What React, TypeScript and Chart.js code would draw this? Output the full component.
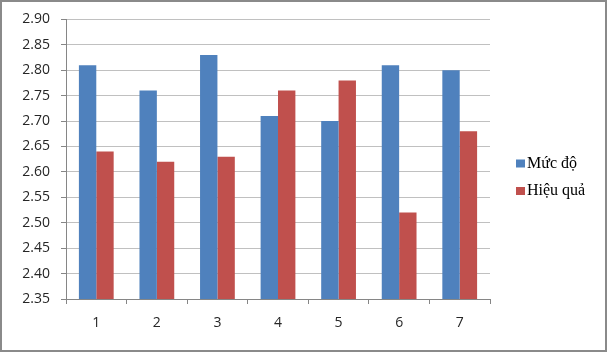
import React, { useEffect, useRef } from "react";
import { Chart, registerables } from "chart.js";

Chart.register(...registerables);

const categories = ["1", "2", "3", "4", "5", "6", "7"];
const seriesNames = ["Mức độ", "Hiệu quả"];
const mucDo = [2.81, 2.76, 2.83, 2.71, 2.7, 2.81, 2.8];
const hieuQua = [2.64, 2.62, 2.63, 2.76, 2.78, 2.52, 2.68];
const yTicks = [2.35, 2.4, 2.45, 2.5, 2.55, 2.6, 2.65, 2.7, 2.75, 2.8, 2.85, 2.9];

const BLUE = "#4F81BD";
const RED = "#C0504D";
const AXIS = "#868686";
const GRID = "#c0c0c0";
const TEXT = "#262626";
const tickFont = { family: "'Open Sans', sans-serif", size: 14 };

const framePlugin = {
  id: "frame",
  beforeDraw(chart: any) {
    const ctx = chart.ctx;
    ctx.save();
    ctx.fillStyle = "#ffffff";
    ctx.fillRect(0, 0, chart.width, chart.height);
    ctx.restore();
  },
  afterDraw(chart: any) {
    const ctx = chart.ctx;
    ctx.save();
    ctx.strokeStyle = "#8a8a8a";
    ctx.lineWidth = 2;
    ctx.strokeRect(1, 1, chart.width - 2, chart.height - 2);
    ctx.restore();
  },
};

const legendPlugin = {
  id: "sideLegend",
  afterDraw(chart: any) {
    const ctx = chart.ctx;
    ctx.save();
    ctx.font = "16px 'Liberation Serif', serif";
    ctx.textBaseline = "alphabetic";
    ctx.textAlign = "left";
    chart.data.datasets.forEach((ds: any, i: number) => {
      const y = 159.5 + i * 27.5;
      ctx.fillStyle = ds.backgroundColor;
      ctx.fillRect(516, y, 9, 8);
      ctx.fillStyle = "#000000";
      ctx.fillText(ds.label, 527, y + 8);
    });
    ctx.restore();
  },
};

export default function App() {
  const ref = useRef<HTMLCanvasElement | null>(null);

  useEffect(() => {
    document.body.style.margin = "0";
    if (!ref.current) return;
    const chart = new Chart(ref.current, {
      type: "bar",
      data: {
        labels: categories,
        datasets: [
          { label: seriesNames[0], data: mucDo, backgroundColor: BLUE, borderWidth: 0 },
          { label: seriesNames[1], data: hieuQua, backgroundColor: RED, borderWidth: 0 },
        ],
      },
      plugins: [framePlugin, legendPlugin],
      options: {
        animation: false,
        responsive: false,
        devicePixelRatio: 1,
        layout: { padding: { left: 0, right: 117, top: 19, bottom: 0 } },
        datasets: { bar: { categoryPercentage: 0.574, barPercentage: 1 } },
        plugins: { legend: { display: false }, tooltip: { enabled: false } },
        scales: {
          x: {
            type: "category",
            grid: {
              display: true,
              drawOnChartArea: false,
              drawTicks: true,
              tickLength: 5,
              tickColor: AXIS,
              offset: true,
            },
            border: { display: true, color: AXIS },
            ticks: { font: tickFont, color: TEXT, padding: 11 },
            afterFit(scale: any) {
              scale.height = 53;
            },
          },
          y: {
            type: "linear",
            min: 2.35,
            max: 2.9,
            grid: { color: GRID, tickColor: AXIS, tickLength: 5, drawTicks: true },
            border: { display: true, color: AXIS },
            ticks: {
              font: tickFont,
              color: TEXT,
              padding: 11,
              callback: (v: any) => Number(v).toFixed(2),
            },
            afterBuildTicks(scale: any) {
              scale.ticks = yTicks.map((v) => ({ value: v }));
            },
            afterFit(scale: any) {
              scale.width = 66;
            },
          },
        },
      },
    });
    return () => chart.destroy();
  }, []);

  return (
    <div style={{ width: 607, height: 352 }}>
      <canvas ref={ref} width={607} height={352} style={{ display: "block" }} />
    </div>
  );
}
